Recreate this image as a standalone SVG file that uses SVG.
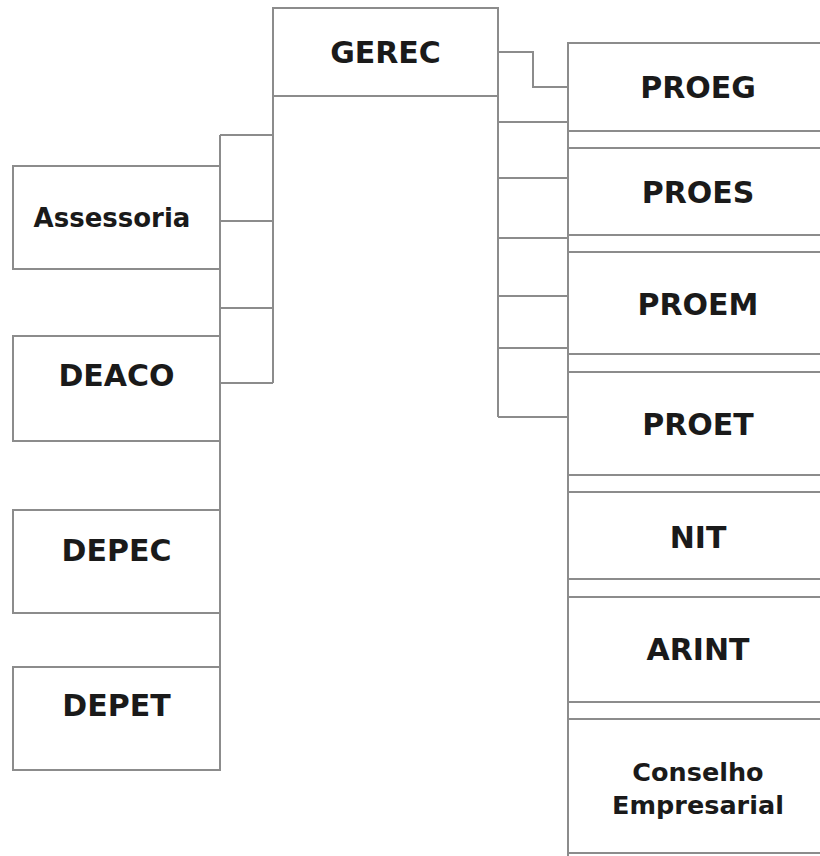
<svg xmlns="http://www.w3.org/2000/svg" width="820" height="856" viewBox="0 0 820 856">
<style>
.box{fill:#ffffff;stroke:#8c8c8c;stroke-width:2}
.ln{fill:none;stroke:#8c8c8c;stroke-width:2}
.t{font-family:"DejaVu Sans","Verdana",sans-serif;font-weight:bold;fill:#1a1a1a;text-anchor:middle}
.big{font-size:30px}
.mid{font-size:26px}
.sm{font-size:25.5px}
</style>
<rect width="820" height="856" fill="#ffffff"/>
<g id="connectors">
<path class="ln" d="M273,96 V383 M220,135 H273 M220,221 H273 M220,308 H273 M220,383 H273 M220,135 V770"/>
<path class="ln" d="M498,96 V417 M498,122 H568 M498,178 H568 M498,238 H568 M498,296 H568 M498,348 H568 M498,417 H568 M498,52 H533 V87 H568 M568,43 V856"/>
</g>
<g id="GEREC"><rect class="box" x="273" y="8" width="225" height="88"/><text class="t big" x="385.5" y="63">GEREC</text></g>
<g id="Assessoria"><rect class="box" x="13" y="166" width="207" height="103"/><text class="t mid" x="112" y="227">Assessoria</text></g>
<g id="DEACO"><rect class="box" x="13" y="336" width="207" height="105"/><text class="t big" x="116.5" y="386">DEACO</text></g>
<g id="DEPEC"><rect class="box" x="13" y="510" width="207" height="103"/><text class="t big" x="116.5" y="561">DEPEC</text></g>
<g id="DEPET"><rect class="box" x="13" y="667" width="207" height="103"/><text class="t big" x="116.5" y="716">DEPET</text></g>
<g id="PROEG"><rect class="box" x="568" y="43" width="262" height="88"/><text class="t big" x="698" y="98">PROEG</text></g>
<g id="PROES"><rect class="box" x="568" y="148" width="262" height="87"/><text class="t big" x="698" y="203">PROES</text></g>
<g id="PROEM"><rect class="box" x="568" y="252" width="262" height="102"/><text class="t big" x="698" y="315">PROEM</text></g>
<g id="PROET"><rect class="box" x="568" y="372" width="262" height="103"/><text class="t big" x="698" y="435">PROET</text></g>
<g id="NIT"><rect class="box" x="568" y="492" width="262" height="87"/><text class="t big" x="698" y="548">NIT</text></g>
<g id="ARINT"><rect class="box" x="568" y="597" width="262" height="105"/><text class="t big" x="698" y="660">ARINT</text></g>
<g id="Conselho"><rect class="box" x="568" y="719" width="262" height="134"/><text class="t sm" x="698" y="781">Conselho</text><text class="t sm" x="698" y="814">Empresarial</text></g>
</svg>
